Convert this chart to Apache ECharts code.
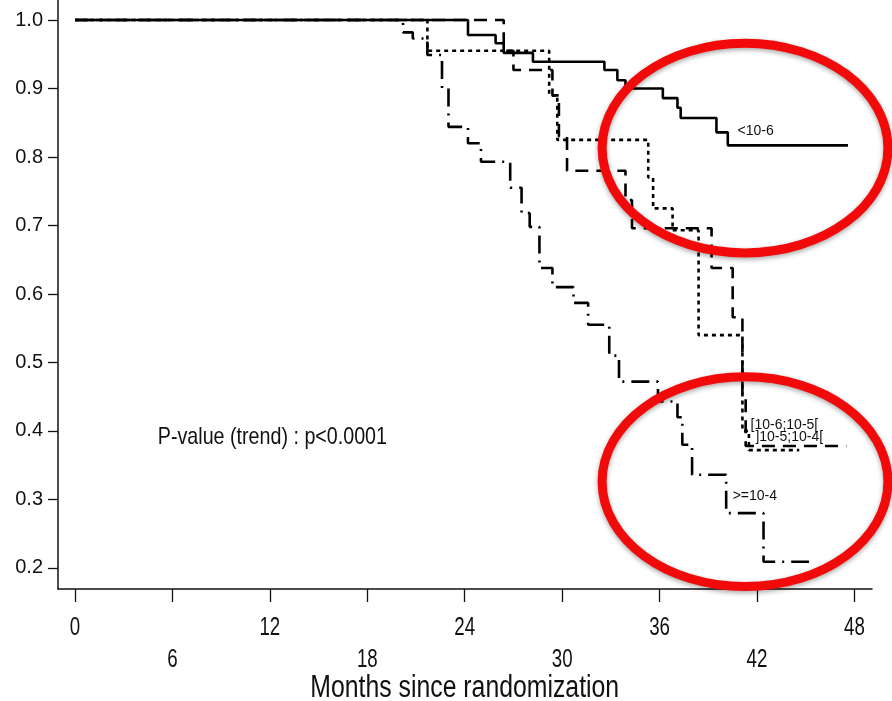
<!DOCTYPE html>
<html>
<head>
<meta charset="utf-8">
<script src="https://cdn.jsdelivr.net/npm/echarts@6/dist/echarts.min.js"></script>
<style>
html,body{margin:0;padding:0;background:#fff;}
#c{width:892px;height:701px;}
</style>
</head>
<body>
<div id="c"></div>
<script>
// ---- data (months, survival) ----
var groupNames = ['<10-6', '[10-6;10-5[', ']10-5;10-4[', '>=10-4'];

var t_lt6 = [0, 24.2, 25.9, 26.4, 28.2, 32.6, 33.4, 33.9, 36.2, 37.1, 37.3, 39.5, 40.2, 47.6];
var s_lt6 = [1.0, 0.978, 0.966, 0.952, 0.939, 0.927, 0.912, 0.900, 0.886, 0.872, 0.857, 0.836, 0.817, 0.817];

var t_6_5 = [0, 21.7, 29.2, 29.7, 35.3, 35.6, 36.8, 38.4, 41.1, 41.5, 44.6];
var s_6_5 = [1.0, 0.955, 0.89, 0.825, 0.77, 0.725, 0.693, 0.54, 0.40, 0.372, 0.372];

var t_5_4 = [0, 26.4, 27.0, 29.4, 29.8, 30.3, 33.9, 34.3, 39.2, 40.5, 41.1, 41.3, 47.5];
var s_5_4 = [1.0, 0.955, 0.927, 0.89, 0.83, 0.78, 0.737, 0.696, 0.638, 0.566, 0.45, 0.378, 0.378];

var t_ge4 = [0, 20.2, 20.8, 21.7, 22.6, 23.0, 24.2, 25.0, 26.8, 27.5, 28.0, 28.6, 29.4, 30.7, 31.6, 32.9, 33.5, 35.9, 37.1, 37.4, 38.0, 40.1, 42.4, 45.2];
var s_ge4 = [1.0, 0.982, 0.973, 0.949, 0.90, 0.844, 0.820, 0.793, 0.755, 0.718, 0.698, 0.638, 0.61, 0.587, 0.555, 0.51, 0.472, 0.443, 0.42, 0.38, 0.336, 0.28, 0.209, 0.209];

var xTicks = [0, 6, 12, 18, 24, 30, 36, 42, 48];
var yTicks = [0.2, 0.3, 0.4, 0.5, 0.6, 0.7, 0.8, 0.9, 1.0];

var xTitle = 'Months since randomization';
var pText = 'P-value (trend) : p<0.0001';

// label anchor positions (data coords)
var labelPos = [[40.8, 0.838], [41.6, 0.409], [41.9, 0.391], [40.5, 0.305]];
var pTextPos = [5.1, 0.39];
var xTitlePos = [24, 0];
// annotation ellipses: center (data) and radii (data units)
var ellipses = [
  {c: [41.26, 0.813], rx: 8.8, ry: 0.153},
  {c: [41.26, 0.326], rx: 8.8, ry: 0.153}
];

function pairs(t, s) { return t.map(function (v, i) { return [v, s[i]]; }); }

var FONT = "'Liberation Sans',Arial,sans-serif";
var X_MIN = -1.047, X_MAX = 49.08, Y_MIN = 0.1693, Y_MAX = 1.0292;

var chart = echarts.init(document.getElementById('c'));

function lineSeries(name, data, type) {
  return {
    name: name, type: 'line', step: 'end', data: data, symbol: 'none',
    lineStyle: {color: '#000', width: 2.6, type: type, cap: 'butt'},
    animation: false, z: 3
  };
}

chart.setOption({
  animation: false,
  grid: {left: 58, right: 20, top: 0, bottom: 112, containLabel: false, outerBoundsMode: 'none'},
  xAxis: {
    type: 'value', min: X_MIN, max: X_MAX,
    axisLine: {show: true, onZero: false, lineStyle: {color: '#111', width: 1.5}},
    axisTick: {show: true, length: 13, lineStyle: {color: '#111', width: 1.3}, customValues: xTicks},
    axisLabel: {show: false},
    splitLine: {show: false}
  },
  yAxis: {
    type: 'value', min: Y_MIN, max: Y_MAX,
    axisLine: {show: true, onZero: false, lineStyle: {color: '#111', width: 1.5}},
    axisTick: {show: true, length: 10, lineStyle: {color: '#111', width: 1.3}, customValues: yTicks},
    axisLabel: {
      customValues: yTicks, margin: 15,
      fontFamily: FONT, fontSize: 20, color: '#111',
      formatter: function (v) { return v.toFixed(1); }
    },
    splitLine: {show: false}
  },
  series: [
    lineSeries(groupNames[0], pairs(t_lt6, s_lt6), 'solid'),
    lineSeries(groupNames[1], pairs(t_6_5, s_6_5), [4, 4]),
    lineSeries(groupNames[2], pairs(t_5_4, s_5_4), [13, 8]),
    lineSeries(groupNames[3], pairs(t_ge4, s_ge4), [18, 7, 2, 7])
  ]
});

function px(p) { return chart.convertToPixel({gridIndex: 0}, p); }

var g = [];
// x tick labels (condensed type, drawn as text at the axis positions)
var axisY = px([0, Y_MIN])[1];
xTicks.forEach(function (v, i) {
  var p = px([v, Y_MIN]);
  var row = (v % 12 === 0) ? 0 : 1;
  g.push({type: 'text', x: p[0], y: axisY + 39 + row * 32, scaleX: 0.72, z: 10,
    style: {text: String(v), fontFamily: FONT, fontSize: 26, fill: '#111', align: 'center', verticalAlign: 'middle'}});
});
var tp = px(xTitlePos);
g.push({type: 'text', x: tp[0], y: axisY + 99, scaleX: 0.8, z: 10,
  style: {text: xTitle, fontFamily: FONT, fontSize: 31, fill: '#111', align: 'center', verticalAlign: 'middle'}});

groupNames.forEach(function (n, i) {
  var p = px(labelPos[i]);
  g.push({type: 'text', x: p[0], y: p[1], z: 10,
    style: {text: n, fontFamily: FONT, fontSize: 14, fill: '#111', verticalAlign: 'middle'}});
});
var pp = px(pTextPos);
g.push({type: 'text', x: pp[0], y: pp[1], scaleX: 0.82, z: 10,
  style: {text: pText, fontFamily: FONT, fontSize: 24, fill: '#111', verticalAlign: 'middle'}});
ellipses.forEach(function (e) {
  var c = px(e.c);
  var r1 = px([e.c[0] + e.rx, e.c[1] + e.ry]);
  g.push({type: 'ellipse', z: 20,
    shape: {cx: c[0], cy: c[1], rx: Math.abs(r1[0] - c[0]), ry: Math.abs(r1[1] - c[1])},
    style: {fill: 'none', stroke: '#f20a0a', lineWidth: 9,
      shadowBlur: 5, shadowColor: 'rgba(0,0,0,0.35)', shadowOffsetY: 2}});
});
chart.setOption({graphic: g});
</script>
</body>
</html>
